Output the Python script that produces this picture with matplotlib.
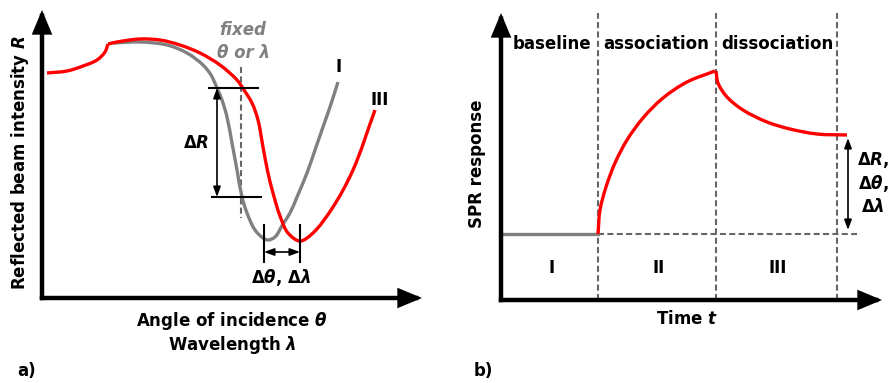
import matplotlib
matplotlib.use("Agg")
import math
import matplotlib.pyplot as plt
from matplotlib.path import Path
from matplotlib.patches import PathPatch

plt.rcParams["font.family"] = ["DejaVu Sans"]
plt.rcParams["mathtext.fontset"] = "custom"
plt.rcParams["mathtext.rm"] = "DejaVu Sans:bold"
plt.rcParams["mathtext.bf"] = "DejaVu Sans:bold"
plt.rcParams["mathtext.it"] = "DejaVu Sans:bold:italic"

# ---- panel a: SPR reflectivity curves (arbitrary units) ----
# curve III: shoulder before the critical angle, then the main dip
angle_III_rise = [5, 25, 41, 55, 63, 66]
refl_III_rise = [225, 227, 232, 238, 246, 254]
angle_III = [66, 75, 98, 118, 138, 158, 178, 195, 202, 210, 216, 221, 226, 231, 238,
             246, 258, 271, 291, 311, 333]
refl_III = [254, 256, 259, 258, 253, 245, 233, 218, 208, 195, 178, 151, 125, 105, 82,
            65, 57, 65, 91, 128, 188]
# curve I
angle_I = [71, 98, 125, 145, 161, 169, 175, 180, 185, 190, 195, 200, 205, 213, 221,
           226, 233, 241, 248, 255, 265, 273, 281, 289, 296]
refl_I = [255, 256, 253, 245, 233, 223, 210, 198, 181, 155, 128, 101, 85, 68, 60, 58,
          61, 74, 85, 101, 125, 148, 171, 194, 216]
fixed_angle = 199
dR_levels = [210, 101]
dtheta_positions = [222, 258]

# ---- panel b: sensorgram (arbitrary units) ----
baseline_level = 66
phase_bounds = [97, 215, 336]
t_assoc = [97, 99, 105, 114, 126, 142, 162, 186, 214]
r_assoc = [66, 90, 113, 137, 160, 182, 202, 218, 229]
t_dissoc = [215, 217, 226, 242, 266, 289, 316, 346]
r_dissoc = [229, 217, 203, 190, 178, 171, 166, 165]
phase_names = ["baseline", "association", "dissociation"]
phase_ids = ["I", "II", "III"]

W, H = 889, 383
fig = plt.figure(figsize=(W / 100, H / 100), dpi=100)

RED = "#ff0000"
GREY = "#808080"
DASH = "#666666"
FS = 12


def fxy(px, py):
    return px / W, 1 - py / H


def smooth_curve(ax, xs, ys, **kw):
    """Draw a centripetal Catmull-Rom (Bezier) line through the given points."""
    pts = list(zip(xs, ys))
    n = len(pts)
    verts = [pts[0]]
    codes = [Path.MOVETO]

    def dist(a, b):
        return math.hypot(b[0] - a[0], b[1] - a[1]) ** 0.5

    for i in range(n - 1):
        p1, p2 = pts[i], pts[i + 1]
        d2 = dist(p1, p2)
        if i > 0:
            p0 = pts[i - 1]
            d1 = dist(p0, p1)
            c1 = tuple((d1 ** 2 * p2[k] - d2 ** 2 * p0[k]
                        + (2 * d1 ** 2 + 3 * d1 * d2 + d2 ** 2) * p1[k])
                       / (3 * d1 * (d1 + d2)) for k in range(2))
        else:
            c1 = tuple(p1[k] + (p2[k] - p1[k]) / 3 for k in range(2))
        if i + 2 < n:
            p3 = pts[i + 2]
            d3 = dist(p2, p3)
            c2 = tuple((d3 ** 2 * p1[k] - d2 ** 2 * p3[k]
                        + (2 * d3 ** 2 + 3 * d3 * d2 + d2 ** 2) * p2[k])
                       / (3 * d3 * (d3 + d2)) for k in range(2))
        else:
            c2 = tuple(p2[k] - (p2[k] - p1[k]) / 3 for k in range(2))
        verts += [c1, c2, p2]
        codes += [Path.CURVE4] * 3
    ax.add_patch(PathPatch(Path(verts, codes), fill=False, **kw))


def axis_arrows(ax, xtip, ytip):
    for tip in (xtip, ytip):
        ax.annotate("", xy=tip, xytext=(0, 0),
                    arrowprops=dict(arrowstyle="-|>,head_length=1.2,head_width=0.5",
                                    lw=3.2, color="black", shrinkA=0, shrinkB=0,
                                    mutation_scale=10, joinstyle="miter",
                                    capstyle="projecting"),
                    annotation_clip=False)


def dbl_arrow(ax, p0, p1):
    ax.annotate("", xy=p1, xytext=p0,
                arrowprops=dict(arrowstyle="<|-|>,head_length=0.6,head_width=0.22",
                                lw=1.2, color="black", shrinkA=0, shrinkB=0,
                                mutation_scale=10),
                annotation_clip=False)


# panel a axes: origin at the corner of the drawn axes
axa = fig.add_axes([42 / W, (H - 298) / H, 388 / W, 298 / H])
axa.set_xlim(0, 388)
axa.set_ylim(0, 298)
axa.axis("off")

smooth_curve(axa, angle_I, refl_I, edgecolor=GREY, lw=2.4, zorder=3, capstyle="butt")
smooth_curve(axa, angle_III_rise, refl_III_rise, edgecolor=RED, lw=2.4, zorder=4,
             capstyle="butt")
smooth_curve(axa, angle_III, refl_III, edgecolor=RED, lw=2.4, zorder=4, capstyle="butt")
axa.plot([fixed_angle, fixed_angle], [231, 80], color=DASH, lw=1.5,
         ls=(0, (2.9, 1.6)), zorder=2)
axa.plot([167, 216], [dR_levels[0]] * 2, color="black", lw=1.5, zorder=5)
axa.plot([170, 219], [dR_levels[1]] * 2, color="black", lw=1.5, zorder=5)
dbl_arrow(axa, (175, dR_levels[1]), (175, dR_levels[0]))
for xp in dtheta_positions:
    axa.plot([xp, xp], [73, 36], color="black", lw=1.5, zorder=5)
dbl_arrow(axa, (dtheta_positions[0], 46), (dtheta_positions[1], 46))
axis_arrows(axa, (380, 0), (0, 288))

fig.text(*fxy(243, 30), "fixed", color=GREY, fontsize=FS, fontweight="bold",
         style="italic", ha="center", va="center")
fig.text(*fxy(243, 53), "θ or λ", color=GREY, fontsize=FS, fontweight="bold",
         style="italic", ha="center", va="center")
fig.text(*fxy(196, 143), r"$\Delta R$", fontsize=FS, ha="center", va="center")
fig.text(*fxy(281, 278), r"$\Delta\theta$, $\Delta\lambda$", fontsize=FS,
         fontweight="bold", ha="center", va="center")
fig.text(*fxy(339, 67), "I", fontsize=FS, fontweight="bold", ha="center", va="center")
fig.text(*fxy(380, 100), "III", fontsize=FS, fontweight="bold", ha="center", va="center")
fig.text(*fxy(232, 321), r"Angle of incidence $\theta$", fontsize=FS,
         fontweight="bold", ha="center", va="center")
fig.text(*fxy(232, 345), r"Wavelength $\lambda$", fontsize=FS,
         fontweight="bold", ha="center", va="center")
fig.text(*fxy(20, 163), r"Reflected beam intensity $R$", fontsize=FS,
         fontweight="bold", ha="center", va="center", rotation=90)
fig.text(*fxy(27, 371), "a)", fontsize=FS, fontweight="bold", ha="center", va="center")

# panel b axes
axb = fig.add_axes([501 / W, (H - 300) / H, 388 / W, 300 / H])
axb.set_xlim(0, 388)
axb.set_ylim(0, 300)
axb.axis("off")

for xb in phase_bounds:
    axb.plot([xb, xb], [0, 287], color=DASH, lw=1.5, ls=(0, (2.9, 1.6)), zorder=2)
axb.plot([0, phase_bounds[0]], [baseline_level] * 2, color=GREY, lw=2.4, zorder=3)
axb.plot([phase_bounds[0], 356], [baseline_level] * 2, color=DASH, lw=1.5,
         ls=(0, (2.9, 1.6)), zorder=2)
smooth_curve(axb, t_assoc, r_assoc, edgecolor=RED, lw=2.4, zorder=4, capstyle="butt")
smooth_curve(axb, t_dissoc, r_dissoc, edgecolor=RED, lw=2.4, zorder=4, capstyle="butt")
dbl_arrow(axb, (347, baseline_level + 4), (347, r_dissoc[-1] - 3))
axis_arrows(axb, (381, 0), (0, 287))

for name, cx in zip(phase_names, [552, 656, 777]):
    fig.text(*fxy(cx, 44), name, fontsize=FS, fontweight="bold", ha="center", va="center")
for pid, cx in zip(phase_ids, [552, 659, 778]):
    fig.text(*fxy(cx, 268), pid, fontsize=FS, fontweight="bold", ha="center", va="center")
for lab, cy in zip([r"$\Delta R$,", r"$\Delta\theta$,", r"$\Delta\lambda$"], [160, 184, 207]):
    fig.text(*fxy(873, cy), lab, fontsize=FS, fontweight="bold", ha="center", va="center")
fig.text(*fxy(477, 164), "SPR response", fontsize=FS, fontweight="bold",
         ha="center", va="center", rotation=90)
fig.text(*fxy(687, 319), r"Time $t$", fontsize=FS, fontweight="bold",
         ha="center", va="center")
fig.text(*fxy(483, 371), "b)", fontsize=FS, fontweight="bold", ha="center", va="center")

fig.savefig("out.png", dpi=100, facecolor="white")
